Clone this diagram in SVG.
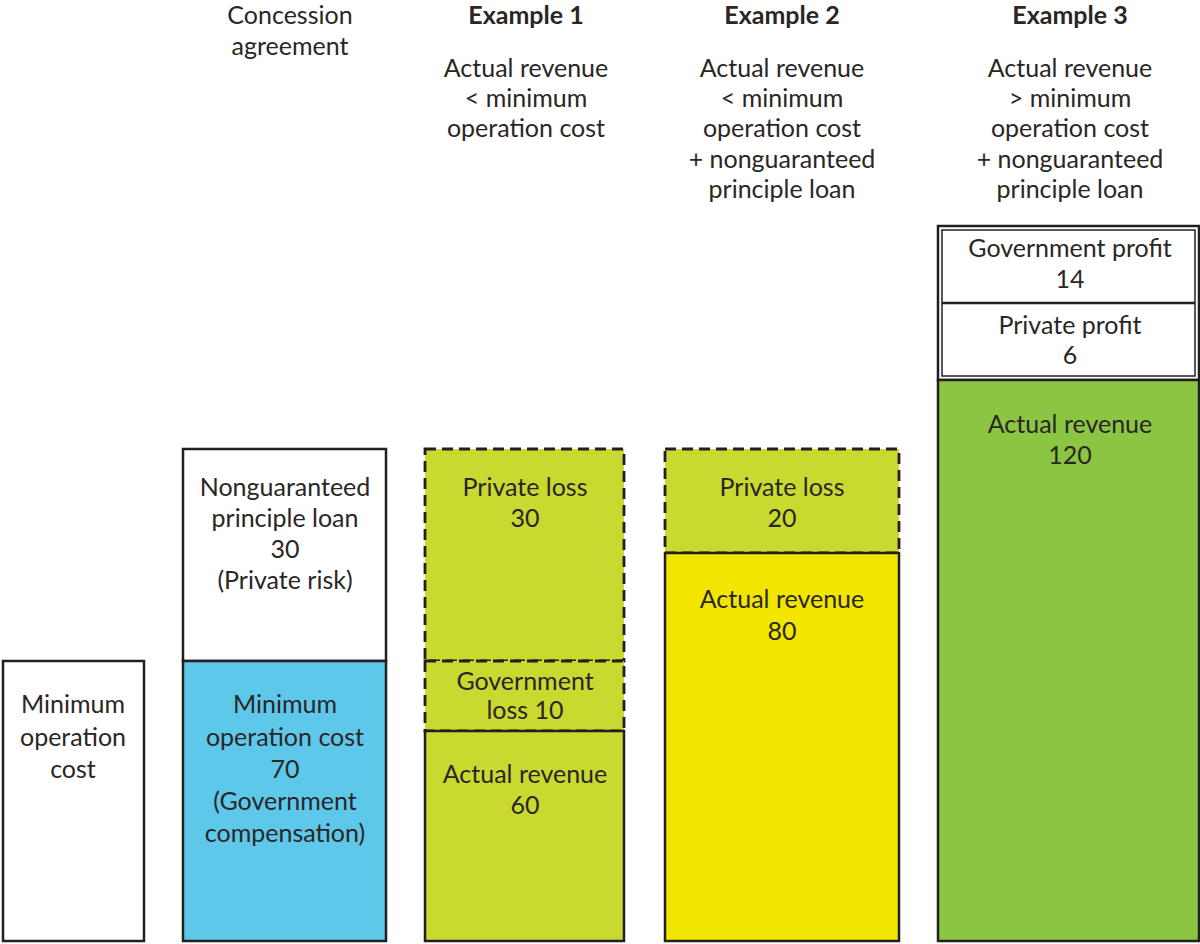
<svg xmlns="http://www.w3.org/2000/svg" width="1200" height="944" viewBox="0 0 1200 944">
<style>
text{font-family:Lato,"Open Sans","Liberation Sans",sans-serif;font-size:25px;fill:#2a2626;text-anchor:middle}
.h{font-weight:bold}
.s{stroke:#231f20;stroke-width:2.5}
.d{stroke:#231f20;stroke-width:2.8;stroke-dasharray:11 6}
.w{fill:#ffffff}
.blue{fill:#5ec8ea}
.lime{fill:#c8d92f}
.yel{fill:#f2e600}
.grn{fill:#8cc542}
</style>
<rect width="1200" height="944" fill="#ffffff"/>
<g id="headers">
<text x="290" y="24">Concession</text>
<text x="290" y="55">agreement</text>
<text class="h" x="526" y="24">Example 1</text>
<text x="526" y="77">Actual  revenue</text>
<text x="526" y="107">&lt; minimum</text>
<text x="526" y="137">operation cost</text>
<text class="h" x="782" y="24">Example 2</text>
<text x="782" y="77">Actual revenue</text>
<text x="782" y="107">&lt; minimum</text>
<text x="782" y="137">operation cost</text>
<text x="782" y="168">+ nonguaranteed</text>
<text x="782" y="198">principle loan</text>
<text class="h" x="1070" y="24">Example  3</text>
<text x="1070" y="77">Actual revenue</text>
<text x="1070" y="107">&gt; minimum</text>
<text x="1070" y="137">operation cost</text>
<text x="1070" y="168">+ nonguaranteed</text>
<text x="1070" y="198">principle loan</text>
</g>
<g id="min-op-cost">
<rect class="s w" x="3" y="661" width="141" height="280"/>
<text x="73" y="713">Minimum</text>
<text x="73" y="746">operation</text>
<text x="73" y="778">cost</text>
</g>
<g id="concession-loan">
<rect class="s w" x="183" y="449" width="203" height="212"/>
<text x="285" y="496">Nonguaranteed</text>
<text x="285" y="527">principle loan</text>
<text x="285" y="558">30</text>
<text x="285" y="589">(Private risk)</text>
</g>
<g id="concession-cost">
<rect class="s blue" x="183" y="661" width="203" height="280"/>
<text x="285" y="713">Minimum</text>
<text x="285" y="746">operation cost</text>
<text x="285" y="778">70</text>
<text x="285" y="810">(Government</text>
<text x="285" y="842">compensation)</text>
</g>
<g id="ex1-private-loss">
<rect class="d lime" x="425" y="449" width="199" height="212"/>
<text x="525" y="496">Private loss</text>
<text x="525" y="527">30</text>
</g>
<g id="ex1-gov-loss">
<rect class="d lime" x="425" y="661" width="199" height="70"/>
<text x="525" y="690">Government</text>
<text x="525" y="719">loss 10</text>
</g>
<g id="ex1-revenue">
<rect class="s lime" x="425" y="731" width="199" height="210"/>
<text x="525" y="783">Actual revenue</text>
<text x="525" y="814">60</text>
</g>
<g id="ex2-private-loss">
<rect class="d lime" x="665" y="449" width="234" height="104"/>
<text x="782" y="496">Private loss</text>
<text x="782" y="527">20</text>
</g>
<g id="ex2-revenue">
<rect class="s yel" x="665" y="553" width="234" height="388"/>
<text x="782" y="608">Actual revenue</text>
<text x="782" y="640">80</text>
</g>
<g id="ex3-profits">
<rect class="s w" x="938" y="226" width="261" height="154"/>
<rect fill="none" stroke="#231f20" stroke-width="1.5" x="942" y="230" width="253" height="146"/>
<line class="s" x1="942" y1="303" x2="1195" y2="303"/>
<text x="1070" y="257">Government profit</text>
<text x="1070" y="288">14</text>
<text x="1070" y="334">Private profit</text>
<text x="1070" y="364">6</text>
</g>
<g id="ex3-revenue">
<rect class="s grn" x="938" y="380" width="261" height="561"/>
<text x="1070" y="433">Actual revenue</text>
<text x="1070" y="464">120</text>
</g>
<g id="connectors"></g>
</svg>
